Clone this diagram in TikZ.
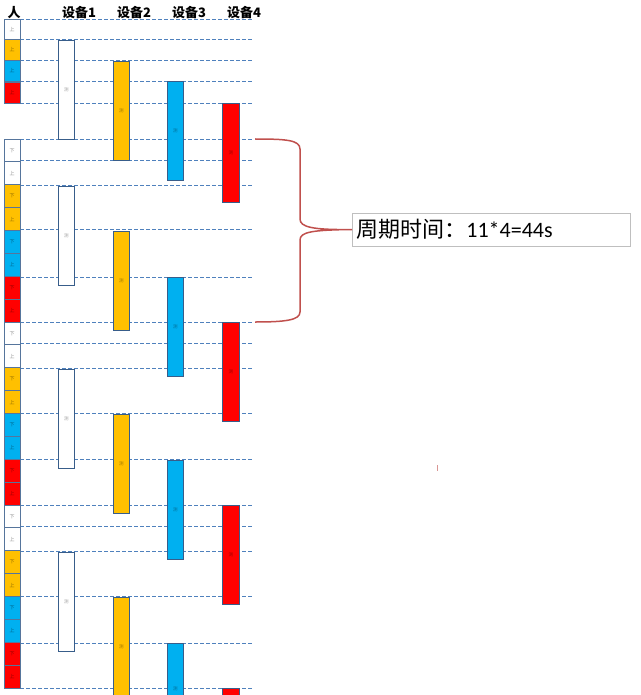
\documentclass[tikz,border=0pt]{standalone}
\usepackage{fontspec}
\newfontfamily\cjk{Noto Sans CJK SC}
\newfontfamily\calib{Carlito}
\definecolor{dyel}{HTML}{FFC000}
\definecolor{dblu}{HTML}{00B0F0}
\definecolor{dred}{HTML}{FF0000}
\definecolor{edge}{HTML}{385D8A}
\definecolor{gridc}{HTML}{4F81BD}
\definecolor{bracec}{HTML}{C0504D}
\tikzset{
  gridline/.style={draw=gridc, line width=0.8pt, dash pattern=on 3.5pt off 2.5pt},
  pbox/.style={draw=edge!85, line width=0.8pt, minimum width=16pt, inner sep=0pt, outer sep=0pt, anchor=north west, font=\cjk\fontsize{5}{5}\selectfont, text=black, text opacity=0.45},
  dbox/.style={draw=edge, line width=0.8pt, minimum width=16.5pt, minimum height=99.5pt, inner sep=0pt, outer sep=0pt, anchor=north west, font=\cjk\fontsize{4.5}{4.5}\selectfont, text=black, text opacity=0.4},
  dlbl/.style={font=\cjk\fontsize{4.5}{4.5}\selectfont, text=black, text opacity=0.4, inner sep=0pt},
  hdr/.style={font=\cjk\bfseries\fontsize{13}{13}\selectfont, inner sep=0pt},
  bracestyle/.style={draw=bracec, line width=1.5pt},
  lblbox/.style={draw=black!25, line width=0.8pt, anchor=west, minimum height=33pt, text width=270pt, inner xsep=4pt, align=left}
}
\begin{document}
\begin{tikzpicture}[x=1pt,y=-1pt]
\useasboundingbox (0,0) rectangle (640,695);
\clip (0,0) rectangle (640,695);
% grid lines
\foreach \y in {19,39.5,60,81,103,139,160,185,229,277,322,343,368,413,459,505,526,551,596,643,688}
  \draw[gridline] (20,\y) -- (253,\y);
% header
\node[hdr] (h0) at (14,12.5) {人};
\node[hdr] (h1) at (79,12.5) {设备1};
\node[hdr] (h2) at (134,12.5) {设备2};
\node[hdr] (h3) at (189,12.5) {设备3};
\node[hdr] (h4) at (244,12.5) {设备4};
% person column, first part
\node[pbox, fill=white, minimum height=20.5pt] (pa) at (4,19) {上};
\node[pbox, fill=dyel, minimum height=20.5pt] (pb) at (4,39.5) {上};
\node[pbox, fill=dblu, minimum height=21pt] (pc) at (4,60) {上};
\node[pbox, fill=dred, minimum height=21pt] (pd) at (4,82.5) {上};
% person column, cycles
\foreach \c in {0,1,2}{
  \foreach \i/\col/\t in {0/white/下,1/white/上,2/dyel/下,3/dyel/上,4/dblu/下,5/dblu/上,6/dred/下,7/dred/上}{
    \pgfmathsetmacro\yy{139+183*\c+22.875*\i}
    \node[pbox, fill=\col, minimum height=22.875pt] (p-\c-\i) at (4,\yy) {\t};
  }
}
% device boxes
\foreach \d/\x/\col/\ys in {1/58/white/{40,186,369,552},2/113/dyel/{61,231,414},3/167/dblu/{81,277,460},4/222.5/dred/{103,322,505}}{
  \foreach \y [count=\k] in \ys {
    \node[dbox, fill=\col] (d\d-\k) at (\x,\y) {测};
  }
}
% boxes running past the bottom edge
\node[dbox, fill=dyel] (d2-4) at (113,597) {测};
\node[dbox, fill=dblu] (d3-4) at (167,643) {};
\node[dlbl] (d3-4l) at (175.25,689) {测};
\node[dbox, fill=dred] (d4-4) at (222.5,688) {};
% label and brace
\node[lblbox] (lbl) at (352,229.5) {\cjk\fontsize{22}{22}\selectfont 周期时间：\calib\fontsize{22}{22}\selectfont 11*4=44s};
\coordinate (bt) at (255,139);
\coordinate (bb) at (255,322);
\draw[bracestyle] (bt) .. controls (286,139) and (300,140) .. (300,149) -- (300,219)
  .. controls (300,227) and (312,230) .. (lbl.west)
  .. controls (312,230) and (300,232) .. (300,240) -- (300,312)
  .. controls (300,320) and (286,322) .. (bb);
% tiny mark
\draw[draw=bracec!60, line width=0.8pt] (437,465) -- (437,471);
\end{tikzpicture}
\end{document}
